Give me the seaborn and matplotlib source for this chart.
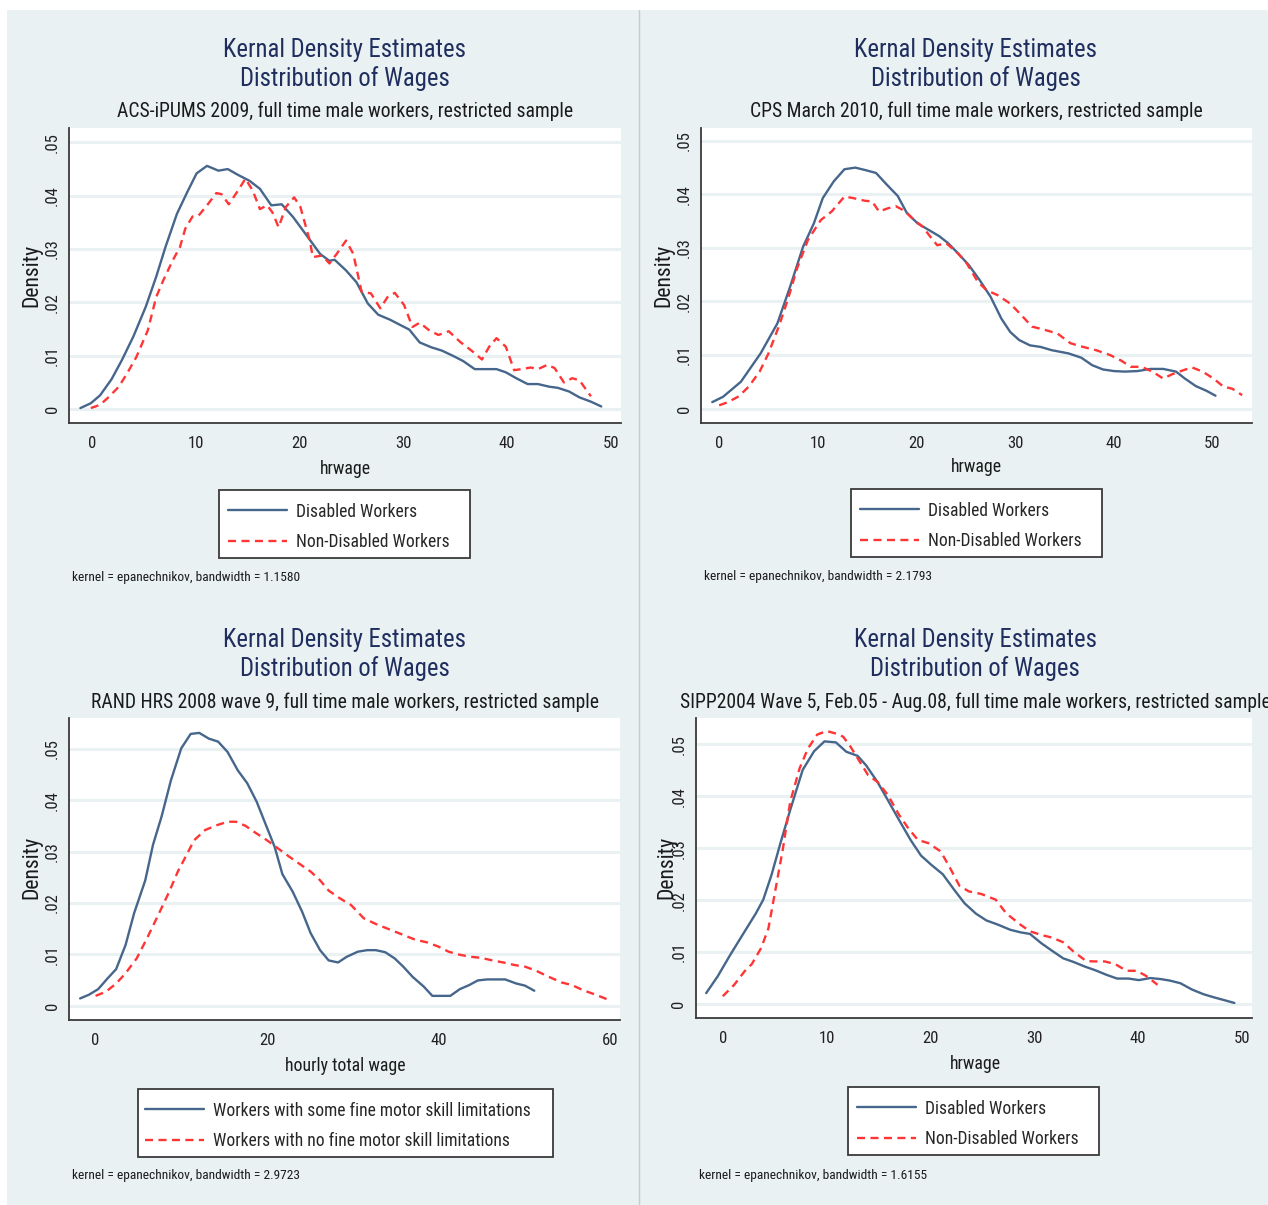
import os
import matplotlib
matplotlib.use("Agg")
import numpy as np
import pandas as pd
import seaborn as sns
import matplotlib.pyplot as plt
from matplotlib import font_manager
from matplotlib.font_manager import FontProperties
from matplotlib.patches import Rectangle
from matplotlib.lines import Line2D

# ---------------- data ----------------
acs_dis_x = [-1.1, -0.1, 0.8, 1.9, 2.9, 4.0, 5.2, 6.2, 7.1, 8.2, 9.2, 10.1, 11.1, 12.2, 13.1,
             14.1, 15.2, 16.2, 17.3, 18.3, 19.4, 20.8, 22.0, 22.9, 23.4, 24.5, 25.5, 26.6, 27.6, 28.7,
             29.7, 30.6, 31.6, 32.7, 33.7, 34.8, 35.8, 36.9, 37.9, 39.0, 39.9, 40.9, 42.0, 43.0, 44.1,
             44.9, 46.0, 47.0, 48.1, 49.1]
acs_dis_y = [0.0002, 0.0011, 0.0026, 0.0056, 0.0092, 0.0136, 0.0192, 0.0248, 0.0304, 0.0366, 0.0407, 0.0442,
             0.0456, 0.0447, 0.0450, 0.0439, 0.0428, 0.0413, 0.0382, 0.0384, 0.0360, 0.0323, 0.0291, 0.0278,
             0.0280, 0.0260, 0.0238, 0.0198, 0.0177, 0.0168, 0.0158, 0.0149, 0.0125, 0.0116, 0.0110, 0.0100,
             0.0090, 0.0075, 0.0075, 0.0075, 0.0069, 0.0058, 0.0047, 0.0047, 0.0042, 0.0040, 0.0033, 0.0022,
             0.0014, 0.0005]
acs_non_x = [-0.1, 0.8, 1.7, 2.6, 3.4, 4.3, 5.4, 6.2, 6.9, 7.8, 8.5, 9.0, 9.7, 10.3, 11.1, 12.0, 12.5, 13.2,
             14.1, 14.8, 15.5, 16.2, 16.9, 17.4, 18.0, 18.7, 19.5, 20.1, 21.0, 21.3, 22.2, 22.9, 23.6, 24.5,
             25.2, 26.0, 26.9, 27.8, 28.5, 29.2, 30.1, 30.9, 31.6, 32.5, 33.4, 34.4, 35.5, 36.7, 37.6, 38.3,
             39.0, 39.9, 40.7, 41.4, 42.3, 43.0, 43.9, 44.6, 45.5, 46.3, 47.0, 48.1]
acs_non_y = [0.0002, 0.0008, 0.0024, 0.0042, 0.0067, 0.0098, 0.0148, 0.0210, 0.0242, 0.0279, 0.0304, 0.0338,
             0.0361, 0.0363, 0.0382, 0.0405, 0.0403, 0.0384, 0.0410, 0.0432, 0.0410, 0.0375, 0.0382, 0.0369,
             0.0341, 0.0379, 0.0397, 0.0379, 0.0316, 0.0285, 0.0288, 0.0273, 0.0291, 0.0316, 0.0291, 0.0220,
             0.0217, 0.0189, 0.0210, 0.0218, 0.0195, 0.0154, 0.0162, 0.0148, 0.0139, 0.0146, 0.0126, 0.0108,
             0.0093, 0.0117, 0.0133, 0.0117, 0.0073, 0.0075, 0.0078, 0.0075, 0.0083, 0.0077, 0.0050, 0.0058,
             0.0054, 0.0024]

cps_dis_x = [-0.7, 0.4, 2.2, 4.2, 5.9, 7.2, 8.5, 9.6, 10.5, 11.6, 12.7, 13.8, 14.9, 15.9, 17.0, 18.1, 19.0,
             20.1, 21.2, 22.3, 23.2, 24.2, 25.3, 26.4, 27.5, 28.6, 29.5, 30.4, 31.5, 32.6, 33.7, 35.4, 36.7,
             37.8, 38.9, 40.0, 41.1, 42.4, 43.7, 45.0, 46.3, 47.2, 48.3, 49.4, 50.3]
cps_dis_y = [0.0012, 0.0022, 0.0050, 0.0103, 0.0159, 0.0228, 0.0302, 0.0346, 0.0393, 0.0424, 0.0447, 0.0450,
             0.0445, 0.0440, 0.0418, 0.0397, 0.0366, 0.0346, 0.0334, 0.0322, 0.0309, 0.0290, 0.0268, 0.0240,
             0.0209, 0.0168, 0.0143, 0.0128, 0.0118, 0.0115, 0.0109, 0.0103, 0.0095, 0.0081, 0.0073, 0.0070,
             0.0069, 0.0070, 0.0074, 0.0074, 0.0069, 0.0056, 0.0042, 0.0033, 0.0024]
cps_non_x = [0.0, 0.9, 2.0, 3.0, 4.1, 5.0, 6.1, 7.0, 7.9, 9.0, 10.3, 11.4, 12.7, 13.6, 14.8, 15.5, 16.2, 17.1,
             17.9, 18.8, 19.7, 20.6, 21.4, 22.1, 23.0, 24.2, 25.1, 26.2, 27.1, 28.2, 29.5, 30.6, 31.7, 32.8,
             34.3, 35.6, 36.9, 38.2, 39.6, 40.7, 41.7, 42.8, 43.9, 45.0, 45.9, 46.8, 47.9, 49.0, 50.1, 51.1,
             52.0, 53.0]
cps_non_y = [0.0006, 0.0012, 0.0023, 0.0041, 0.0069, 0.0103, 0.0156, 0.0206, 0.0262, 0.0315, 0.0352, 0.0368,
             0.0396, 0.0393, 0.0388, 0.0387, 0.0368, 0.0374, 0.0378, 0.0369, 0.0353, 0.0340, 0.0321, 0.0305,
             0.0309, 0.0290, 0.0271, 0.0237, 0.0221, 0.0212, 0.0196, 0.0175, 0.0153, 0.0148, 0.0140, 0.0122,
             0.0115, 0.0109, 0.0100, 0.0090, 0.0078, 0.0078, 0.0069, 0.0056, 0.0064, 0.0070, 0.0077, 0.0069,
             0.0056, 0.0041, 0.0037, 0.0025]

hrs_some_x = [-1.8, -0.8, 0.3, 1.4, 2.4, 3.5, 4.5, 5.8, 6.7, 7.7, 8.8, 10.0, 11.1, 12.1, 13.2, 14.3, 15.4,
              16.6, 17.7, 18.8, 19.8, 20.9, 21.8, 23.0, 24.1, 25.1, 26.2, 27.2, 28.3, 29.3, 30.6, 31.7, 32.7,
              33.8, 34.9, 35.9, 37.0, 38.3, 39.3, 40.4, 41.4, 42.5, 43.6, 44.6, 45.7, 46.7, 47.8, 49.1, 50.1,
              51.2]
hrs_some_y = [0.0014, 0.0021, 0.0032, 0.0053, 0.0071, 0.0118, 0.0180, 0.0244, 0.0313, 0.0368, 0.0439, 0.0501,
              0.0529, 0.0531, 0.0520, 0.0514, 0.0494, 0.0458, 0.0433, 0.0397, 0.0355, 0.0309, 0.0256, 0.0222,
              0.0183, 0.0141, 0.0108, 0.0088, 0.0084, 0.0095, 0.0105, 0.0108, 0.0108, 0.0104, 0.0092, 0.0076,
              0.0056, 0.0037, 0.0019, 0.0019, 0.0019, 0.0032, 0.0040, 0.0049, 0.0051, 0.0051, 0.0051, 0.0043,
              0.0039, 0.0029]
hrs_none_x = [0.0, 1.2, 2.4, 3.5, 4.8, 6.0, 7.3, 8.6, 9.6, 10.7, 11.5, 12.8, 14.1, 15.4, 16.4, 17.5, 18.8,
              20.0, 21.3, 22.6, 23.8, 25.1, 26.2, 27.2, 28.5, 29.8, 31.3, 32.7, 34.2, 35.7, 37.2, 38.7, 40.0,
              41.2, 42.5, 43.8, 45.0, 46.3, 47.6, 48.9, 50.1, 51.4, 52.9, 54.4, 55.6, 56.9, 58.4, 59.9]
hrs_none_y = [0.0019, 0.0027, 0.0043, 0.0063, 0.0092, 0.0131, 0.0176, 0.0222, 0.0261, 0.0296, 0.0322, 0.0342,
              0.0351, 0.0358, 0.0358, 0.0350, 0.0335, 0.0322, 0.0306, 0.0290, 0.0276, 0.0261, 0.0244, 0.0224,
              0.0209, 0.0196, 0.0170, 0.0159, 0.0149, 0.0139, 0.0129, 0.0123, 0.0115, 0.0105, 0.0099, 0.0095,
              0.0093, 0.0088, 0.0084, 0.0079, 0.0076, 0.0068, 0.0056, 0.0045, 0.0040, 0.0030, 0.0021, 0.0011]

sipp_dis_x = [-1.6, -0.5, 0.7, 1.9, 3.2, 3.9, 4.7, 5.6, 6.5, 7.7, 8.8, 9.8, 10.9, 11.9, 13.0, 13.8, 14.9,
              15.9, 17.0, 18.1, 19.1, 20.1, 21.2, 22.3, 23.3, 24.4, 25.4, 26.5, 27.7, 28.7, 29.6, 30.7, 31.7,
              32.8, 33.8, 34.9, 35.9, 37.0, 38.0, 39.1, 40.1, 41.2, 42.2, 43.1, 44.1, 45.2, 46.3, 47.3, 48.4,
              49.3]
sipp_dis_y = [0.0021, 0.0053, 0.0094, 0.0133, 0.0175, 0.0201, 0.0249, 0.0313, 0.0374, 0.0451, 0.0487, 0.0506,
              0.0504, 0.0486, 0.0478, 0.0460, 0.0428, 0.0393, 0.0354, 0.0316, 0.0286, 0.0268, 0.0250, 0.0220,
              0.0194, 0.0174, 0.0161, 0.0153, 0.0143, 0.0138, 0.0135, 0.0117, 0.0103, 0.0088, 0.0081, 0.0072,
              0.0065, 0.0056, 0.0049, 0.0049, 0.0046, 0.0050, 0.0048, 0.0045, 0.0040, 0.0028, 0.0019, 0.0013,
              0.0007, 0.0002]
sipp_non_x = [0.0, 1.1, 2.1, 2.8, 3.7, 4.4, 5.1, 5.8, 6.5, 7.4, 8.2, 9.1, 10.0, 10.9, 11.6, 12.3, 13.1, 14.0,
              14.9, 15.9, 17.0, 17.9, 18.8, 19.8, 21.0, 21.9, 22.8, 23.7, 24.9, 26.3, 27.3, 28.6, 29.6, 30.7,
              31.7, 32.8, 33.8, 35.0, 35.7, 36.8, 37.8, 38.9, 39.9, 40.8, 41.9]
sipp_non_y = [0.0015, 0.0037, 0.0063, 0.0077, 0.0108, 0.0146, 0.0223, 0.0300, 0.0390, 0.0454, 0.0492, 0.0519,
              0.0526, 0.0521, 0.0515, 0.0496, 0.0470, 0.0441, 0.0428, 0.0403, 0.0364, 0.0338, 0.0316, 0.0310,
              0.0294, 0.0262, 0.0228, 0.0217, 0.0212, 0.0201, 0.0175, 0.0154, 0.0140, 0.0133, 0.0128, 0.0119,
              0.0101, 0.0083, 0.0082, 0.0082, 0.0077, 0.0064, 0.0064, 0.0054, 0.0037]

title_line1 = "Kernal Density Estimates"
title_line2 = "Distribution of Wages"
subtitles = ["ACS-iPUMS 2009, full time male workers, restricted sample",
             "CPS March 2010, full time male workers, restricted sample",
             "RAND HRS 2008 wave 9, full time male workers, restricted sample",
             "SIPP2004 Wave 5, Feb.05 - Aug.08, full time male workers, restricted sample"]
xlabels = ["hrwage", "hrwage", "hourly total wage", "hrwage"]
legend_labels = [["Disabled Workers", "Non-Disabled Workers"],
                 ["Disabled Workers", "Non-Disabled Workers"],
                 ["Workers with some fine motor skill limitations", "Workers with no fine motor skill limitations"],
                 ["Disabled Workers", "Non-Disabled Workers"]]
notes = ["kernel = epanechnikov, bandwidth = 1.1580",
         "kernel = epanechnikov, bandwidth = 2.1793",
         "kernel = epanechnikov, bandwidth = 2.9723",
         "kernel = epanechnikov, bandwidth = 1.6155"]
yticks = [0, 0.01, 0.02, 0.03, 0.04, 0.05]
ytick_labels = ["0", ".01", ".02", ".03", ".04", ".05"]
xticks_50 = [0, 10, 20, 30, 40, 50]
xticks_60 = [0, 20, 40, 60]

series = [
    (acs_dis_x, acs_dis_y, acs_non_x, acs_non_y),
    (cps_dis_x, cps_dis_y, cps_non_x, cps_non_y),
    (hrs_some_x, hrs_some_y, hrs_none_x, hrs_none_y),
    (sipp_dis_x, sipp_dis_y, sipp_non_x, sipp_non_y),
]

# ---------------- style ----------------
sns.set_style("white")


def pick_font():
    prefs = ["liberationsansnarrow-regular", "liberationsansnarrow", "arialn.", "robotocondensed-regular",
             "roboto-condensed", "notosans-condensed.", "notosanscondensed-regular", "notosans-condensed",
             "opensans-condensed", "opensans_condensed", "dejavusanscondensed.ttf"]
    bad = ["bold", "italic", "oblique", "light", "thin", "medium", "black", "semi", "extra", "mono"]
    files = [f.fname for f in font_manager.fontManager.ttflist]
    for p in prefs:
        for fn in files:
            base = os.path.basename(fn).lower().replace(" ", "")
            if p in base and not any(k in base for k in bad):
                return fn
    return None


FN = pick_font()
if FN is None:
    FN = font_manager.findfont(FontProperties(family="Liberation Sans"))
plt.rcParams["font.family"] = ["Liberation Sans", "DejaVu Sans"]


def fp(size):
    return FontProperties(fname=FN, size=size)


BLUE = "#46668b"
RED = "#ff3535"
TITLE_C = "#1f2e5e"
BG = "#e9f1f3"
AX_C = "#3a3a3a"
TXT_C = "#1a1a1a"
DASH = (0, (3.4, 2.3))
LW = 1.7

W, H = 1268, 1205
fig = plt.figure(figsize=(W / 100, H / 100), dpi=100)
fig.patch.set_facecolor("white")
renderer = fig.canvas.get_renderer()


def fx(x):
    return x / W


def fy(y):
    return 1 - y / H


def fitted_size(text, target_w, base=20.0):
    t = fig.text(0, 0, text, fontproperties=fp(base))
    w = t.get_window_extent(renderer).width
    t.remove()
    return base * target_w / w


S_TITLE = fitted_size(title_line1, 242)
S_SUB = fitted_size(subtitles[0], 455)
S_LEG = fitted_size(legend_labels[0][0], 121)
S_NOTE = fitted_size(notes[0], 227)
S_XL = fitted_size("hrwage", 51)
S_TICK = min(fitted_size("50", 16.5), 14)
S_DENS = fitted_size("Density", 63)

fig.patches.append(Rectangle((fx(7), fy(1205)), fx(1268) - fx(7), fy(10) - fy(1205),
                             transform=fig.transFigure, facecolor=BG, edgecolor="none", zorder=-10))
fig.add_artist(Line2D([fx(639), fx(639)], [fy(10), fy(1205)], color="#c6ccd0", lw=1.0))

# per-panel layout (pixels)
panels = [
    dict(ax=(69, 128, 621, 423), xlim=(-2.2, 51.0), ylim=(-0.0026, 0.0527), xt=xticks_50,
         cx=345, t1=50, t2=79, sub=111.5, dens=(32, 275), xl=469, leg=(219, 490, 470, 558), legx=228,
         note=(72, 577)),
    dict(ax=(701, 128, 1252, 423), xlim=(-1.84, 54.0), ylim=(-0.0027, 0.0524), xt=xticks_50,
         cx=976, t1=50, t2=79, sub=111.5, dens=(664, 275), xl=467, leg=(851, 489, 1102, 557), legx=860,
         note=(704, 576)),
    dict(ax=(69, 718, 620, 1020), xlim=(-3.1, 61.2), ylim=(-0.0028, 0.056), xt=xticks_60,
         cx=345, t1=640, t2=669, sub=702.5, dens=(32, 867), xl=1066, leg=(138, 1089, 553, 1157), legx=145,
         note=(72, 1176)),
    dict(ax=(695.5, 718, 1252, 1018), xlim=(-2.63, 51.0), ylim=(-0.0027, 0.0551), xt=xticks_50,
         cx=975, t1=640, t2=669, sub=702.5, dens=(667, 867), xl=1064, leg=(848, 1087, 1099, 1155), legx=857,
         note=(699, 1175)),
]

for i, p in enumerate(panels):
    l, t, r, b = p["ax"]
    ax = fig.add_axes([fx(l), fy(b), fx(r) - fx(l), fy(t) - fy(b)])
    ax.set_facecolor("white")
    dx, dy, nx, ny = series[i]
    d1 = pd.DataFrame({"x": dx, "y": dy})
    d2 = pd.DataFrame({"x": nx, "y": ny})
    for yv in yticks:
        ax.axhline(yv, color=BG, lw=2.2, zorder=0)
    sns.lineplot(data=d1, x="x", y="y", ax=ax, color=BLUE, lw=LW, sort=False, estimator=None, zorder=3)
    sns.lineplot(data=d2, x="x", y="y", ax=ax, color=RED, lw=LW, linestyle=DASH, sort=False,
                 estimator=None, zorder=4)
    ax.set_xlim(*p["xlim"])
    ax.set_ylim(*p["ylim"])
    ax.set_xticks(p["xt"])
    ax.set_xticklabels([str(v) for v in p["xt"]])
    ax.set_yticks(yticks)
    ax.set_yticklabels(ytick_labels, rotation=90, va="center")
    for lab in ax.get_xticklabels() + ax.get_yticklabels():
        lab.set_fontproperties(fp(S_TICK))
        lab.set_color("#222222")
    ax.set_xlabel("")
    ax.set_ylabel("")
    for s in ["top", "right"]:
        ax.spines[s].set_visible(False)
    for s in ["left", "bottom"]:
        ax.spines[s].set_color(AX_C)
        ax.spines[s].set_linewidth(1.3)
    ax.tick_params(axis="both", direction="out", length=5, width=1.1, color=AX_C, pad=1.5)
    ax.tick_params(axis="x", pad=4.5)
    ax.grid(False)

    # titles
    fig.text(fx(p["cx"]), fy(p["t1"]), title_line1, ha="center", va="center",
             fontproperties=fp(S_TITLE), color=TITLE_C)
    fig.text(fx(p["cx"]), fy(p["t2"]), title_line2, ha="center", va="center",
             fontproperties=fp(S_TITLE), color=TITLE_C)
    fig.text(fx(p["cx"]), fy(p["sub"]), subtitles[i], ha="center", va="center",
             fontproperties=fp(S_SUB), color=TXT_C)
    fig.text(fx(p["dens"][0]), fy(p["dens"][1]), "Density", rotation=90, ha="center", va="center",
             fontproperties=fp(S_DENS), color=TXT_C)
    fig.text(fx(p["cx"]), fy(p["xl"]), xlabels[i], ha="center", va="center",
             fontproperties=fp(S_XL), color=TXT_C)

    # legend box + entries
    ll, lt, lr, lb = p["leg"]
    fig.patches.append(Rectangle((fx(ll), fy(lb)), fx(lr) - fx(ll), fy(lt) - fy(lb),
                                 transform=fig.transFigure, facecolor="white", edgecolor=AX_C,
                                 lw=1.3, zorder=5))
    handles = [Line2D([], [], color=BLUE, lw=LW), Line2D([], [], color=RED, lw=LW, linestyle=DASH)]
    leg_px = S_LEG * 100 / 72
    fig.legend(handles=handles, labels=legend_labels[i], loc="center left",
               bbox_to_anchor=(fx(p["legx"]), fy((lt + lb) / 2 + 3)), frameon=False, prop=fp(S_LEG),
               handlelength=59 / leg_px, handletextpad=9 / leg_px,
               labelspacing=(34 - 1.2 * leg_px) / leg_px,
               borderpad=0, borderaxespad=0)
    fig.text(fx(p["note"][0]), fy(p["note"][1]), notes[i], ha="left", va="center",
             fontproperties=fp(S_NOTE), color=TXT_C)

fig.savefig("out.png", dpi=100, facecolor="white")
